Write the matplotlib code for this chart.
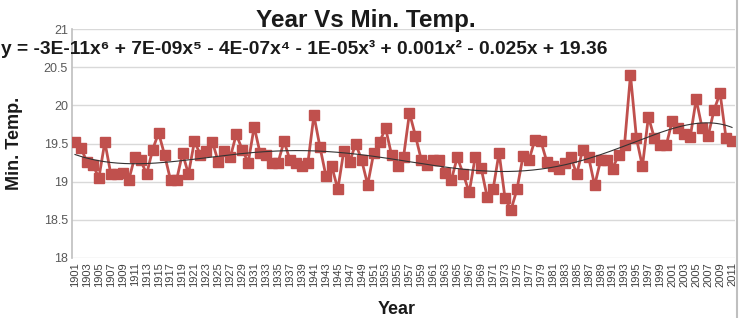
import numpy as np
import matplotlib
matplotlib.use("Agg")
import matplotlib.pyplot as plt

years = list(range(1901, 2012))
min_temp = [
    19.52, 19.44, 19.26, 19.22, 19.05, 19.52, 19.10, 19.10, 19.11, 19.02,
    19.32, 19.28, 19.10, 19.42, 19.64, 19.35, 19.02, 19.02, 19.37, 19.10,
    19.53, 19.35, 19.40, 19.52, 19.26, 19.40, 19.32, 19.62, 19.42, 19.25,
    19.72, 19.37, 19.35, 19.25, 19.25, 19.53, 19.28, 19.25, 19.20, 19.25,
    19.87, 19.46, 19.08, 19.20, 18.90, 19.40, 19.26, 19.50, 19.28, 18.96,
    19.37, 19.52, 19.70, 19.35, 19.20, 19.32, 19.90, 19.60, 19.28, 19.22,
    19.28, 19.28, 19.12, 19.02, 19.32, 19.10, 18.86, 19.32, 19.18, 18.80,
    18.90, 19.38, 18.78, 18.63, 18.90, 19.33, 19.28, 19.55, 19.53, 19.26,
    19.20, 19.16, 19.25, 19.32, 19.10, 19.42, 19.32, 18.95, 19.28, 19.28,
    19.17, 19.35, 19.48, 20.40, 19.57, 19.20, 19.85, 19.57, 19.48, 19.48,
    19.80, 19.70, 19.62, 19.58, 20.08, 19.70, 19.60, 19.94, 20.16, 19.57,
    19.53,
]
y_ticks = [18, 18.5, 19, 19.5, 20, 20.5, 21]
title = "Year Vs Min. Temp."
equation = "y = -3E-11x⁶ + 7E-09x⁵ - 4E-07x⁴ - 1E-05x³ + 0.001x² - 0.025x + 19.36"
x_label = "Year"
y_label = "Min. Temp."

FONT = ["Liberation Sans Narrow", "Liberation Sans", "DejaVu Sans"]
plt.rcParams["font.family"] = FONT

W, H = 744, 318
fig = plt.figure(figsize=(W / 100, H / 100), dpi=100)
ax = fig.add_axes([72 / W, (H - 258) / H, (735 - 72) / W, (258 - 29) / H])

idx = np.arange(1, len(years) + 1)
ax.plot(idx, min_temp, color="#C0504D", lw=2.0, marker="s", ms=7,
        mec="#C0504D", mfc="#C0504D", zorder=3)

# 6th-order polynomial trendline (Excel style, x = 1..n)
coef = np.polyfit(idx, min_temp, 6)
xx = np.linspace(1, len(years), 400)
ax.plot(xx, np.polyval(coef, xx), color="#333333", lw=0.8, zorder=4)

ax.set_xlim(0.5, len(years) + 0.5)
ax.set_ylim(18, 21)
ax.set_yticks(y_ticks)
ax.set_yticklabels([f"{v:g}" for v in y_ticks], fontsize=9, color="#595959")
ax.set_xticks(idx[::2])
ax.set_xticklabels([str(y) for y in years[::2]], rotation=90, fontsize=8,
                   color="#404040")
ax.tick_params(axis="both", length=0, pad=3)
ax.grid(axis="y", color="#D9D9D9", lw=1.0)
ax.set_axisbelow(True)
for s in ["top", "right", "bottom"]:
    ax.spines[s].set_visible(False)
ax.spines["left"].set_color("#BFBFBF")
ax.spines["left"].set_linewidth(1.2)

fig.text(366 / W, 1 - 21 / H, title, ha="center", va="center",
         fontsize=17.5, fontweight="bold", color="#1a1a1a")
fig.text(1 / W, 1 - 49 / H, equation, ha="left", va="center",
         fontsize=13.8, fontweight="bold", color="#1a1a1a")
fig.text(15 / W, 1 - 143 / H, y_label, ha="center", va="center",
         rotation=90, fontsize=13, fontweight="bold", color="#1a1a1a")
fig.text(397 / W, 1 - 309 / H, x_label, ha="center", va="center",
         fontsize=13, fontweight="bold", color="#1a1a1a")

# right chart border
fig.add_artist(plt.Line2D([737 / W, 737 / W], [0, 1], transform=fig.transFigure,
                          color="#BFBFBF", lw=1.5))

fig.savefig("out.png", dpi=100)
